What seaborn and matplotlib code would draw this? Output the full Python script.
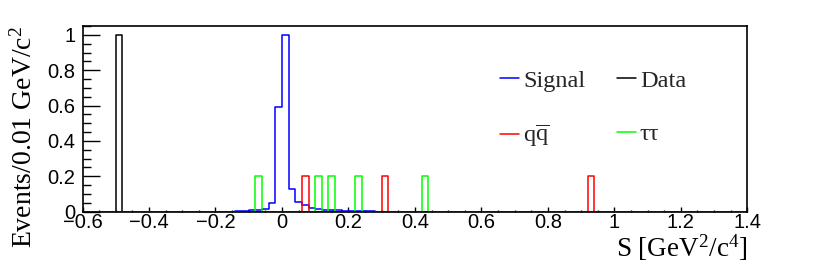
import numpy as np
import pandas as pd
import seaborn as sns
import matplotlib.pyplot as plt
from matplotlib.ticker import MultipleLocator, FuncFormatter

# bin centres (S, GeV^2/c^4) and contents, bins are 0.02 wide
signal_s = [-0.13, -0.11, -0.09, -0.07, -0.05, -0.03, -0.01, 0.01, 0.03, 0.05,
            0.07, 0.09, 0.11, 0.13, 0.15, 0.17, 0.19, 0.21, 0.23, 0.25, 0.27]
signal_w = [0.004, 0.004, 0.01, 0.01, 0.015, 0.05, 0.59, 1.0, 0.13, 0.056,
            0.036, 0.02, 0.015, 0.012, 0.01, 0.008, 0.006, 0.005, 0.004, 0.004, 0.003]

data_s = [-0.49]
data_w = [1.0]

qq_s = [0.07, 0.31, 0.93]
qq_w = [0.2, 0.2, 0.2]

tautau_s = [-0.07, 0.11, 0.15, 0.23, 0.43]
tautau_w = [0.2, 0.2, 0.2, 0.2, 0.2]

sns.set_theme(style='white')
plt.rcParams['font.family'] = ['Liberation Sans', 'DejaVu Sans']
plt.rcParams['mathtext.fontset'] = 'custom'
plt.rcParams['mathtext.rm'] = 'Liberation Serif'
plt.rcParams['mathtext.it'] = 'Liberation Serif:italic'
plt.rcParams['axes.unicode_minus'] = True

fig = plt.figure(figsize=(8.3, 2.65), dpi=100)
ax = fig.add_axes([0.0994, 0.2011, 0.8010, 0.7008])

hist_kw = dict(binwidth=0.02, binrange=(-0.6, 1.4), element='step', fill=False, lw=1.1, ax=ax)
sns.histplot(x=data_s, weights=data_w, color='black', label='Data', **hist_kw)
sns.histplot(x=signal_s, weights=signal_w, color='blue', label='Signal', **hist_kw)
sns.histplot(x=qq_s, weights=qq_w, color='red', label=r'q$\overline{\mathrm{q}}$', **hist_kw)
sns.histplot(x=tautau_s, weights=tautau_w, color='#00ff00', label='ττ', **hist_kw)

ax.set_xlim(-0.6, 1.4)
ax.set_ylim(0, 1.05)

fmt = FuncFormatter(lambda v, p: ('%g' % round(v, 6)).replace('-', '\u2212'))
ax.xaxis.set_major_locator(MultipleLocator(0.2))
ax.xaxis.set_minor_locator(MultipleLocator(0.05))
ax.yaxis.set_major_locator(MultipleLocator(0.2))
ax.yaxis.set_minor_locator(MultipleLocator(0.05))
ax.xaxis.set_major_formatter(fmt)
ax.yaxis.set_major_formatter(fmt)

ax.tick_params(axis='both', which='both', direction='in', labelsize=14.5, color='black', labelcolor='black')
ax.tick_params(axis='x', which='major', length=3.3, width=1, pad=1)
ax.tick_params(axis='x', which='minor', length=1.8, width=1)
ax.tick_params(axis='y', which='major', length=12, width=1, pad=5)
ax.tick_params(axis='y', which='minor', length=6, width=1)
ax.tick_params(left=True, bottom=True, which='both')

for sp in ax.spines.values():
    sp.set_color('black')
    sp.set_linewidth(1.2)
    sp.set_visible(True)

ax.set_xlabel(r'S [GeV$^2$/c$^4$]', family='Liberation Serif', fontsize=19.5, loc='right', color='black')
ax.set_ylabel(r'Events/0.01 GeV/c$^2$', family='Liberation Serif', fontsize=20, loc='top', color='black')
ax.yaxis.set_label_coords(-0.067, 1.0)
ax.xaxis.set_label_coords(1.0, -0.11)

handles, labels = ax.get_legend_handles_labels()
lookup = dict(zip(labels, handles))
order = ['Signal', r'q$\overline{\mathrm{q}}$', 'Data', 'ττ']
leg = ax.legend([lookup[k] for k in order], order, ncol=2, loc='upper left',
                bbox_to_anchor=(0.628, 0.765), frameon=False,
                prop={'family': 'Liberation Serif', 'size': 17.5},
                handlelength=0.8, handletextpad=0.15, labelspacing=1.3,
                columnspacing=1.3, borderpad=0, borderaxespad=0)

fig.savefig('out.png', dpi=100, facecolor='white')
